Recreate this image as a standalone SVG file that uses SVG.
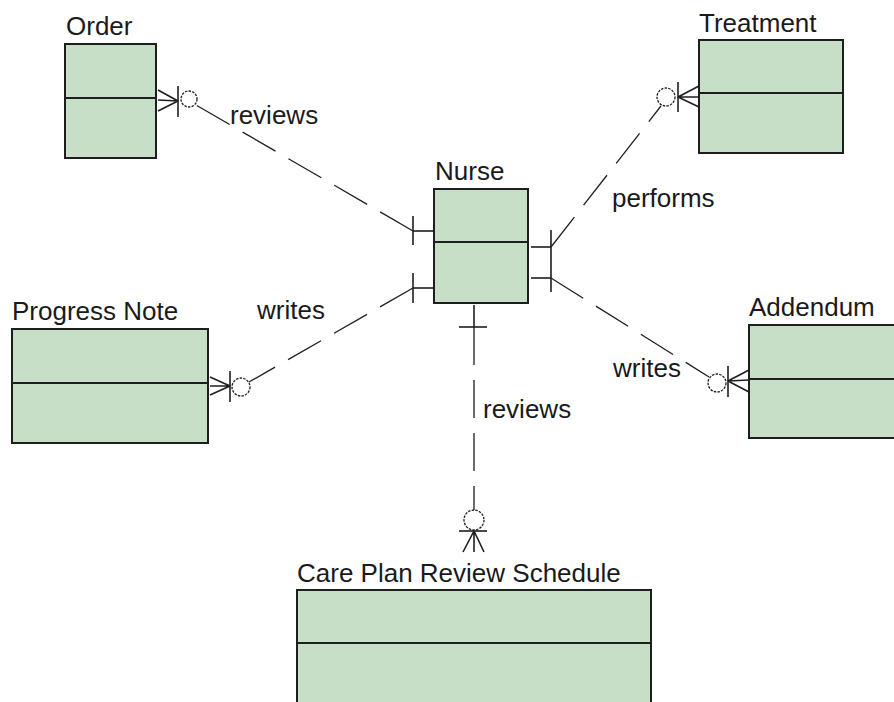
<svg xmlns="http://www.w3.org/2000/svg" width="894" height="702" viewBox="0 0 894 702">
  <style>
    .box { fill: #c7dfc7; stroke: #1e1e1e; stroke-width: 2; }
    .div { stroke: #1e1e1e; stroke-width: 2; }
    .lbl { font-family: "Liberation Sans", Arial, sans-serif; font-size: 26px; fill: #1a1a1a; }
    .rel { fill: none; stroke: #1e1e1e; stroke-width: 1.3; stroke-dasharray: 38 15; }
    .mark { fill: none; stroke: #1e1e1e; stroke-width: 1.6; }
    .opt { fill: none; stroke: #1e1e1e; stroke-width: 1.3; stroke-dasharray: 2.5 1.2; }
  </style>
  <rect width="894" height="702" fill="#ffffff"/>

  <!-- entities -->
  <g id="order">
    <text class="lbl" x="66" y="35">Order</text>
    <rect class="box" x="65" y="44" width="91" height="114"/>
    <line class="div" x1="65" y1="98" x2="156" y2="98"/>
  </g>
  <g id="treatment">
    <text class="lbl" x="699" y="32">Treatment</text>
    <rect class="box" x="699" y="40" width="144" height="113"/>
    <line class="div" x1="699" y1="93" x2="843" y2="93"/>
  </g>
  <g id="nurse">
    <text class="lbl" x="435" y="180">Nurse</text>
    <rect class="box" x="434" y="189" width="94" height="114"/>
    <line class="div" x1="434" y1="242" x2="528" y2="242"/>
  </g>
  <g id="progress-note">
    <text class="lbl" x="12" y="320">Progress Note</text>
    <rect class="box" x="12" y="329" width="196" height="114"/>
    <line class="div" x1="12" y1="383" x2="208" y2="383"/>
  </g>
  <g id="addendum">
    <text class="lbl" x="749" y="316">Addendum</text>
    <rect class="box" x="749" y="325" width="160" height="113"/>
    <line class="div" x1="749" y1="379" x2="894" y2="379"/>
  </g>
  <g id="care-plan-review-schedule">
    <text class="lbl" x="297" y="582">Care Plan Review Schedule</text>
    <rect class="box" x="297" y="590" width="354" height="130"/>
    <line class="div" x1="297" y1="643" x2="651" y2="643"/>
  </g>

  <!-- relationships -->
  <g id="connectors">
    <!-- Nurse reviews Order -->
    <g id="nurse-order">
      <line class="mark" x1="413" y1="231" x2="434" y2="231"/>
      <line class="mark" x1="413" y1="216" x2="413" y2="245"/>
      <line class="rel" x1="413" y1="231" x2="196" y2="105"/>
      <circle class="opt" cx="189" cy="99" r="8"/>
      <line class="mark" x1="178" y1="86" x2="178" y2="117"/>
      <path class="mark" d="M158 90 L178 101 M158 100 L178 101 M158 111 L178 101"/>
      <text class="lbl" x="230" y="124">reviews</text>
    </g>
    <!-- Nurse performs Treatment -->
    <g id="nurse-treatment">
      <line class="mark" x1="531" y1="247" x2="551" y2="247"/>
      <line class="mark" x1="551" y1="230" x2="551" y2="262"/>
      <line class="rel" x1="551" y1="247" x2="661" y2="106"/>
      <circle class="opt" cx="666" cy="97" r="9"/>
      <line class="mark" x1="678" y1="82" x2="678" y2="112"/>
      <path class="mark" d="M699 86 L678 97 M699 97 L678 97 M699 107 L678 97"/>
      <text class="lbl" x="612" y="207">performs</text>
    </g>
    <!-- Nurse writes Progress Note -->
    <g id="nurse-progress-note">
      <line class="mark" x1="413" y1="288" x2="434" y2="288"/>
      <line class="mark" x1="413" y1="273" x2="413" y2="303"/>
      <line class="rel" x1="413" y1="288" x2="249" y2="382"/>
      <circle class="opt" cx="241" cy="387" r="9"/>
      <line class="mark" x1="230" y1="371" x2="230" y2="402"/>
      <path class="mark" d="M210 377 L230 386 M210 386 L230 386 M210 395 L230 386"/>
      <text class="lbl" x="257" y="319">writes</text>
    </g>
    <!-- Nurse writes Addendum -->
    <g id="nurse-addendum">
      <line class="mark" x1="531" y1="278" x2="551" y2="278"/>
      <line class="mark" x1="551" y1="262" x2="551" y2="292"/>
      <line class="rel" x1="551" y1="278" x2="709" y2="377"/>
      <circle class="opt" cx="717" cy="383" r="9"/>
      <line class="mark" x1="728" y1="366" x2="728" y2="397"/>
      <path class="mark" d="M749 370 L728 381 M749 380 L728 381 M749 392 L728 381"/>
      <text class="lbl" x="613" y="377">writes</text>
    </g>
    <!-- Nurse reviews Care Plan Review Schedule -->
    <g id="nurse-care-plan">
      <line class="mark" x1="474" y1="305" x2="474" y2="327"/>
      <line class="mark" x1="459" y1="327" x2="487" y2="327"/>
      <line class="rel" x1="474" y1="327" x2="474" y2="510"/>
      <circle class="opt" cx="474" cy="520" r="10"/>
      <line class="mark" x1="459" y1="531" x2="487" y2="531"/>
      <path class="mark" d="M463 552 L474 531 M474 552 L474 531 M484 552 L474 531"/>
      <text class="lbl" x="483" y="418">reviews</text>
    </g>
  </g>
</svg>
